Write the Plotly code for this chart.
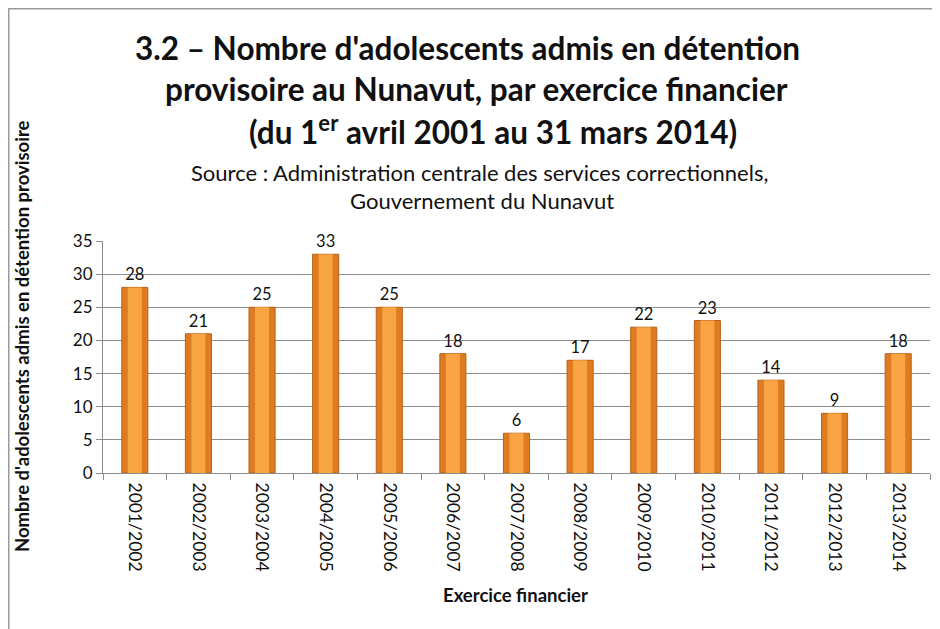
import plotly.graph_objects as go

exercices = [
    "2001/2002", "2002/2003", "2003/2004", "2004/2005", "2005/2006",
    "2006/2007", "2007/2008", "2008/2009", "2009/2010", "2010/2011",
    "2011/2012", "2012/2013", "2013/2014",
]
admissions = [28, 21, 25, 33, 25, 18, 6, 17, 22, 23, 14, 9, 18]
y_ticks = [0, 5, 10, 15, 20, 25, 30, 35]

FONT = "Lato, 'Open Sans', sans-serif"


# page pixel -> paper coords (plot area spans x 103..930, y 241..473 on the page)
def xp(px):
    return (px - 103) / 827


def yp(py):
    return (473 - py) / 232


def label(text, x, y, size, angle=0):
    return dict(text=text, xref="paper", yref="paper", x=xp(x), y=yp(y),
                xanchor="center", yanchor="middle", showarrow=False,
                textangle=angle, font=dict(family=FONT, size=size))


fig = go.Figure()

# outer bar (darker edge) + inner highlight to mimic the bevelled Excel bars
fig.add_trace(go.Bar(
    x=exercices, y=admissions, width=0.41,
    marker=dict(color="#DF7C22", line=dict(color="#B6611B", width=1)),
    text=admissions, textposition="outside", cliponaxis=False,
    textfont=dict(family=FONT, size=16.5, color="#111"),
    hoverinfo="x+y",
))
fig.add_trace(go.Bar(
    x=exercices, y=admissions, width=0.22,
    marker=dict(color="#F9A442", line=dict(width=0)),
    hoverinfo="skip",
))

fig.update_layout(
    width=932, height=621,
    barmode="overlay",
    showlegend=False,
    plot_bgcolor="white", paper_bgcolor="white",
    margin=dict(l=95, r=10, t=233, b=156),
    font=dict(family=FONT, color="#111"),
    shapes=[dict(
        type="rect", xref="paper", yref="paper",
        x0=xp(8.5), x1=1.2, y0=-1.0, y1=yp(8.5),
        line=dict(color="#9a9a9a", width=2),
    )],
    annotations=[
        label("<b>3.2 – Nombre d'adolescents admis en détention</b>", 467, 48, 31.5),
        label("<b>provisoire au Nunavut, par exercice financier</b>", 476, 89, 31.5),
        label("<b>(du 1<sup>er</sup> avril 2001 au 31 mars 2014)</b>", 493, 130, 31.5),
        label("Source : Administration centrale des services correctionnels,", 479, 172, 22),
        label("Gouvernement du Nunavut", 482, 200, 22),
        label("<b>Nombre d'adolescents admis en détention provisoire</b>", 22, 336, 18.5, -90),
        label("<b>Exercice financier</b>", 515, 595, 18.5),
    ],
)

fig.update_xaxes(
    type="category", tickangle=90,
    tickfont=dict(family=FONT, size=17.5, color="#111"),
    showline=True, linecolor="#8c8c8c", linewidth=1,
    ticks="outside", tickson="boundaries", ticklen=6, tickcolor="#8c8c8c",
    ticklabelstandoff=5,
    showgrid=False,
)
fig.update_yaxes(
    range=[0, 35], tickvals=y_ticks,
    tickfont=dict(family=FONT, size=17, color="#111"),
    showline=True, linecolor="#8c8c8c", linewidth=1,
    ticks="outside", ticklen=6, tickcolor="#8c8c8c",
    showgrid=True, gridcolor="#8c8c8c", gridwidth=1,
    zeroline=False,
)

fig.write_html("out.html")
